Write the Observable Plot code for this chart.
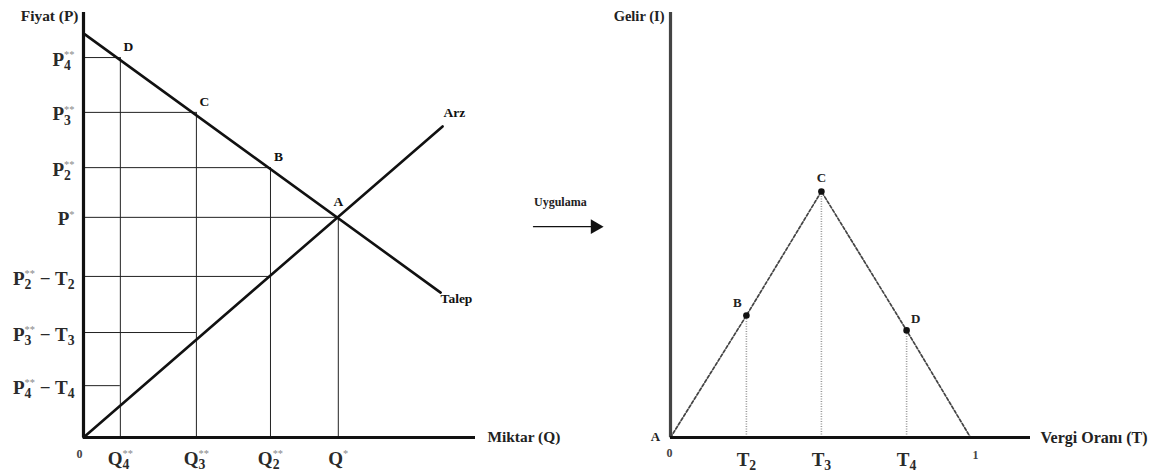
<!DOCTYPE html>
<html><head><meta charset="utf-8">
<script src="https://cdn.jsdelivr.net/npm/d3@7"></script>
<script src="https://cdn.jsdelivr.net/npm/@observablehq/plot@0.6"></script>
<style>
html,body{margin:0;padding:0;background:#fff;}
#wrap{position:relative;width:1160px;height:475px;overflow:hidden;}
#left,#right{position:absolute;top:0;}
#left{left:0;} #right{left:600px;}
svg{overflow:visible;}
</style></head><body><div id="wrap"><div id="left"></div><div id="right"></div></div>
<script>
// ---------- Left panel: supply & demand (Q, P units) ----------
const qTicks = [0.94, 2.88, 4.77, 6.50];
const qLabels = ["Q_4^**", "Q_3^**", "Q_2^**", "Q^*"];
const pTicks = [8.94, 7.65, 6.35, 5.18, 3.79, 2.47, 1.22];
const pLabels = ["P_4^**", "P_3^**", "P_2^**", "P^*", "P_2^** − T_2", "P_3^** − T_3", "P_4^** − T_4"];
const pLineEnds = [0.94, 2.88, 4.77, 6.50, 4.77, 2.88, 0.94];
const pointNames = ["D", "C", "B", "A"];
const demandQ = [0, 9.11];
const demandP = [9.51, 3.41];
const supplyQ = [0, 9.16];
const supplyP = [0, 7.32];
const arrowQ = [11.48, 13.05];
const arrowP = [4.96, 4.96];
const arrowText = "Uygulama";

// ---------- Right panel: Laffer curve (T, I units) ----------
const tTicks = [0.253, 0.503, 0.787];
const tLabels = ["T_2", "T_3", "T_4"];
const lafferT = [0, 0.253, 0.503, 0.787, 1];
const lafferI = [0, 2.87, 5.79, 2.52, 0];
const lafferNames = ["A", "B", "C", "D", ""];

const FONT = "'Liberation Serif', 'DejaVu Serif', serif";

const demand = demandQ.map((q, i) => ({q, p: demandP[i]}));
const supply = supplyQ.map((q, i) => ({q, p: supplyP[i]}));
const hLines = pTicks.map((p, i) => ({p, q: pLineEnds[i], label: pLabels[i]}));
const vLines = qTicks.map((q, i) => ({q, p: pTicks[i], label: qLabels[i], name: pointNames[i]}));

const left = Plot.plot({
  width: 600, height: 475,
  marginLeft: 83, marginRight: 125, marginTop: 12, marginBottom: 38,
  x: {domain: [0, 10], axis: null},
  y: {domain: [0, 10], axis: null},
  style: {fontFamily: FONT, background: "transparent", overflow: "visible", color: "#111"},
  marks: [
    Plot.ruleY(hLines, {y: "p", x1: () => 0, x2: "q", stroke: "#222", strokeWidth: 1}),
    Plot.ruleX(vLines, {x: "q", y1: () => 0, y2: "p", stroke: "#222", strokeWidth: 1}),
    Plot.line(demand, {x: "q", y: "p", stroke: "#111", strokeWidth: 2.6}),
    Plot.line(supply, {x: "q", y: "p", stroke: "#111", strokeWidth: 2.6}),
    Plot.ruleX([0], {y1: () => 0, y2: () => 10, stroke: "#111", strokeWidth: 3.2}),
    Plot.ruleY([0], {x1: () => 0, x2: () => 10, stroke: "#111", strokeWidth: 3.2}),
    Plot.text(hLines, {x: () => 0, y: "p", text: "label", textAnchor: "end", dx: -9, dy: 2, fontSize: 19, fontWeight: "bold", fill: "#2a2a2a"}),
    Plot.text(vLines, {x: "q", y: () => 0, text: "label", dy: 21, fontSize: 19, fontWeight: "bold", fill: "#2a2a2a"}),
    Plot.text([0], {x: d => d, y: d => d, text: d => String(d), dx: -4, dy: 17, fontSize: 12, fontWeight: "bold", fill: "#444"}),
    Plot.text(vLines.slice(0, 3), {x: "q", y: "p", text: "name", dx: 8, dy: -11, fontSize: 13.5, fontWeight: "bold"}),
    Plot.text(vLines.slice(3), {x: "q", y: "p", text: "name", dx: 0, dy: -16, fontSize: 13.5, fontWeight: "bold"}),
    Plot.text(supply.slice(1), {x: "q", y: "p", text: () => "Arz", textAnchor: "start", dx: 1, dy: -14, fontSize: 13.5, fontWeight: "bold"}),
    Plot.text(demand.slice(1), {x: "q", y: "p", text: () => "Talep", textAnchor: "start", dx: 0, dy: 6, fontSize: 13.5, fontWeight: "bold"}),
    Plot.text([{q: 10, p: 0}], {x: "q", y: "p", text: () => "Miktar (Q)", textAnchor: "start", dx: 12, fontSize: 15.4, fontWeight: "bold", fill: "#222"}),
    Plot.text([{q: 0, p: 10}], {x: "q", y: "p", text: () => "Fiyat (P)", textAnchor: "end", dx: -5, dy: 4, fontSize: 15.4, fontWeight: "bold", fill: "#222"}),
    Plot.line(arrowQ.map((q, i) => ({q, p: arrowP[i]})), {x: "q", y: "p", stroke: "#111", strokeWidth: 1.3}),
    Plot.dot([{q: arrowQ[1], p: arrowP[1]}], {x: "q", y: "p", symbol: "triangle", rotate: 90, r: 5.5, fill: "#111", stroke: "none"}),
    Plot.text([{q: (arrowQ[0] + arrowQ[1]) / 2, p: arrowP[0]}], {x: "q", y: "p", text: () => arrowText, dx: -4, dy: -25, fontSize: 12, fontWeight: "bold", fill: "#222"})
  ]
});

const laffer = lafferT.map((t, i) => ({t, v: lafferI[i], name: lafferNames[i]}));
const tLines = tTicks.map((t, i) => ({t, v: lafferI[i + 1], label: tLabels[i]}));

const right = Plot.plot({
  width: 560, height: 475,
  marginLeft: 70, marginRight: 130, marginTop: 12, marginBottom: 38,
  x: {domain: [0, 1.2], axis: null},
  y: {domain: [0, 10], axis: null},
  style: {fontFamily: FONT, background: "transparent", overflow: "visible", color: "#111"},
  marks: [
    Plot.ruleX(tLines, {x: "t", y1: () => 0, y2: "v", stroke: "#999", strokeWidth: 1.6, strokeDasharray: "1,1.5"}),
    Plot.line(laffer, {x: "t", y: "v", stroke: "#444", strokeWidth: 1.7, strokeDasharray: "3,2"}),
    Plot.dot(laffer.slice(1, 4), {x: "t", y: "v", r: 3.3, fill: "#111", stroke: "none"}),
    Plot.ruleX([0], {y1: () => 0, y2: () => 10, stroke: "#444", strokeWidth: 3.2}),
    Plot.ruleY([0], {x1: () => 0, x2: () => 1.2, stroke: "#111", strokeWidth: 3.2}),
    Plot.text(laffer.slice(2, 3), {x: "t", y: "v", text: "name", dy: -14, fontSize: 13, fontWeight: "bold", fill: "#222"}),
    Plot.text(laffer.slice(1, 2), {x: "t", y: "v", text: "name", dx: -9, dy: -13, fontSize: 13, fontWeight: "bold", fill: "#222"}),
    Plot.text(laffer.slice(3, 4), {x: "t", y: "v", text: "name", dx: 9, dy: -12, fontSize: 13, fontWeight: "bold", fill: "#222"}),
    Plot.text(laffer.slice(0, 1), {x: "t", y: "v", text: "name", dx: -15, dy: -1, fontSize: 13, fontWeight: "bold", fill: "#222"}),
    Plot.text(tLines, {x: "t", y: () => 0, text: "label", dy: 22, fontSize: 19, fontWeight: "bold", fill: "#2a2a2a"}),
    Plot.text([0], {x: d => d, y: d => d, text: d => String(d), dx: -1, dy: 16, fontSize: 12, fontWeight: "bold", fill: "#444"}),
    Plot.text([1], {x: d => d, y: () => 0, text: d => String(d), dx: 5, dy: 18, fontSize: 12, fontWeight: "bold", fill: "#444"}),
    Plot.text([{t: 1.2, v: 0}], {x: "t", y: "v", text: () => "Vergi Oranı (T)", textAnchor: "start", dx: 10, fontSize: 16, fontWeight: "bold", fill: "#222"}),
    Plot.text([{t: 0, v: 10}], {x: "t", y: "v", text: () => "Gelir (I)", textAnchor: "end", dx: -6, dy: 4, fontSize: 14.5, fontWeight: "bold", fill: "#222"})
  ]
});

document.getElementById("left").appendChild(left);
document.getElementById("right").appendChild(right);

// Convert "_x" (subscript) and "^**" (superscript) markup into real tspans
function richify(svg) {
  d3.select(svg).selectAll("text").each(function () {
    const s = this.textContent;
    if (!/[_^]/.test(s)) return;
    const fs = parseFloat(getComputedStyle(this).fontSize) || 16;
    const segs = [];
    let i = 0, buf = "";
    while (i < s.length) {
      const c = s[i];
      if (c === "_") {
        if (buf) { segs.push({t: buf, k: "n"}); buf = ""; }
        segs.push({t: s[i + 1], k: "sub"}); i += 2;
      } else if (c === "^") {
        if (buf) { segs.push({t: buf, k: "n"}); buf = ""; }
        let j = i + 1, sup = "";
        while (j < s.length && s[j] === "*") { sup += s[j]; j++; }
        segs.push({t: sup, k: "sup"}); i = j;
      } else { buf += c; i++; }
    }
    if (buf) segs.push({t: buf, k: "n"});
    const el = d3.select(this);
    el.text(null);
    let cur = 0;
    segs.forEach((sg, idx) => {
      const off = sg.k === "sub" ? 0.25 * fs : sg.k === "sup" ? -0.4 * fs : 0;
      const size = sg.k === "sub" ? 0.72 * fs : sg.k === "sup" ? 0.55 * fs : fs;
      const ts = el.append("tspan").attr("dy", (off - cur) + "px").attr("font-size", size + "px").text(sg.t);
      if (sg.k === "sup") ts.attr("fill", "#888").attr("font-weight", "normal");
      if (sg.k === "sup" && idx > 0 && segs[idx - 1].k === "sub") ts.attr("dx", (-0.5 * 0.72 * fs) + "px");
      cur = off;
    });
  });
}
richify(left);
richify(right);
</script>
</body></html>
